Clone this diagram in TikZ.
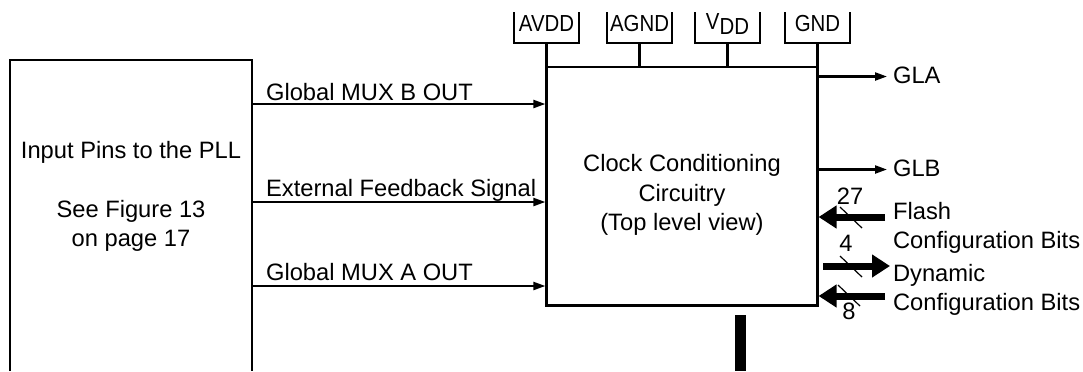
\documentclass[tikz,border=0pt]{standalone}
\usepackage{fontspec}
\setmainfont{Liberation Sans}
\usetikzlibrary{arrows.meta}

\begin{document}
\begin{tikzpicture}[x=0.5pt,y=-0.5pt,line width=1.1pt,
  sig/.style={-{Triangle[length=6pt,width=4pt]}},
  bus/.style={line width=3.5pt,-{Triangle[length=9pt,width=11pt]}},
  txt/.style={font=\fontsize{11.85}{14.75}\selectfont,inner sep=0pt},
  pintxt/.style={font=\fontsize{11.6}{13}\selectfont,inner sep=0pt},
  lbl/.style={txt,anchor=base west}]
\useasboundingbox (0,0) rectangle (1083,371);
%左のブロック
\draw (10,371) |- (252,60) -- (252,371);
\node[txt,align=center] (pins) at (131,196.4) {Input Pins to the PLL\\[14.75pt]See Figure 13\\on page 17};
%クロック回路
\node[draw,minimum width=135.5pt,minimum height=119.25pt,inner sep=0pt] (ccc) at (682,186.25) {};
\node[txt,align=center] (ccctxt) at (682,195) {Clock Conditioning\\Circuitry\\(Top level view)};
%電源ピン
\foreach \n/\x/\t in {avdd/546.5/AVDD,agnd/639.5/AGND,vdd/727.5/{V\raisebox{-0.4ex}{DD}},gnd/817.5/GND}{
  \node[pintxt] (\n) at (\x,24) {\scalebox{0.88}[1]{\t}};
  \draw (\x,12) ++(-32.5,0) |- ++(65,31) -- ++(0,-31);
  \draw (\x,43) -- (\n |- ccc.north);
}
%入力信号
\coordinate (muxb) at (252,104);
\coordinate (extfb) at (252,202);
\coordinate (muxa) at (252,286);
\draw[sig] (muxb) -- (muxb -| ccc.west);
\draw[sig] (extfb) -- (extfb -| ccc.west);
\draw[sig] (muxa) -- (muxa -| ccc.west);
\node[lbl] (muxbtxt) at (265,100.5) {Global MUX B OUT};
\node[lbl] (extfbtxt) at (265,196.5) {External Feedback Signal};
\node[lbl] (muxatxt) at (265,280.5) {Global MUX A OUT};
%出力
\node[lbl] (gla) at (892,83.5) {GLA};
\node[lbl] (glb) at (892,176) {GLB};
\draw[sig] (ccc.east |- 0,76.5) -- (887,76.5);
\draw[sig] (ccc.east |- 0,169.5) -- (887,169.5);
%コンフィギュレーションビット
\coordinate (flash) at (885,217);
\coordinate (dynout) at (890,266);
\coordinate (dynin) at (885,296);
\draw[bus] (flash) -- (flash -| ccc.east);
\draw[bus] (823,266) -- (dynout);
\draw[bus] (dynin) -- (dynin -| ccc.east);
\draw[line width=0.6pt] (840,207) -- (862,228);
\draw[line width=0.6pt] (840,256) -- (862,277);
\draw[line width=0.6pt] (838,285) -- (860,306);
\node[txt] (n27) at (850,196) {27};
\node[txt] (n4) at (846,243) {4};
\node[txt] (n8) at (849,311) {8};
\node[txt,align=left,anchor=west] (flashtxt) at (892,227.8) {Flash\\Configuration Bits};
\node[txt,align=left,anchor=west] (dyntxt) at (892,289.8) {Dynamic\\Configuration Bits};
%下のバス
\draw[line width=5.5pt] (740.5,315) -- (740.5,371);
\end{tikzpicture}
\end{document}
